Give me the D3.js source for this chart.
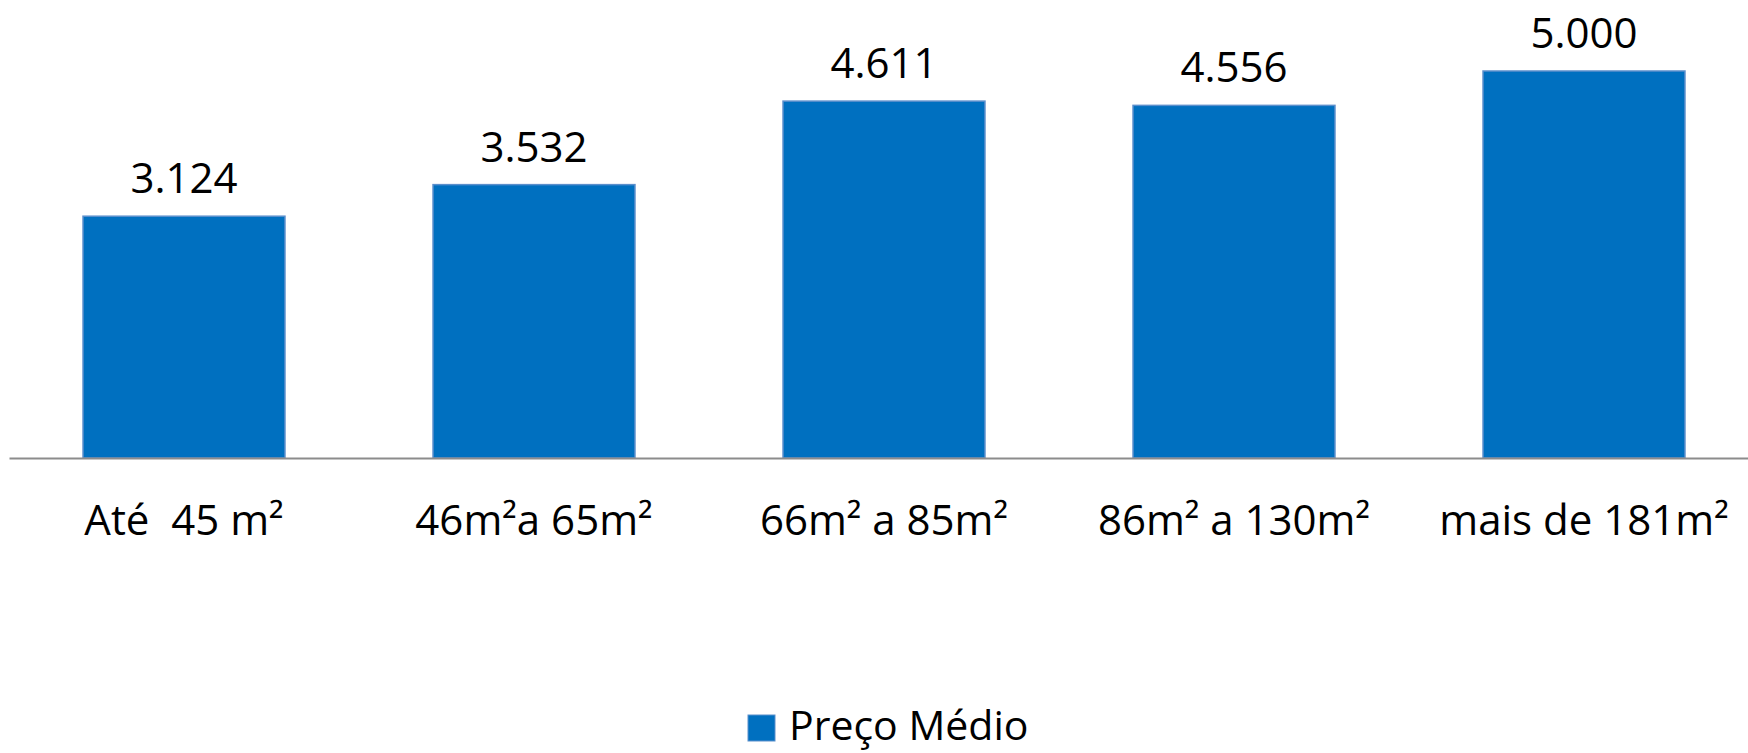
<!DOCTYPE html>
<html>
<head>
<meta charset="utf-8">
<script src="https://cdn.jsdelivr.net/npm/d3@7"></script>
<style>
  body { margin: 0; background: #fff; }
  text { font-family: "Open Sans", sans-serif; fill: #000; }
</style>
</head>
<body>
<svg id="chart"></svg>
<script>
const WIDTH = 1748;
const HEIGHT = 753;

const categories = ["Até  45 m²", "46m²a 65m²", "66m² a 85m²", "86m² a 130m²", "mais de 181m²"];
const values = [3124, 3532, 4611, 4556, 5000];
const seriesName = "Preço Médio";

const BAR_COLOR = "#0070c0";

const ptBR = d3.formatLocale({ decimal: ",", thousands: ".", grouping: [3], currency: ["R$", ""] });
const fmt = ptBR.format(",d");

const svg = d3.select("#chart").attr("width", WIDTH).attr("height", HEIGHT);

const x = d3.scaleBand().domain(categories).range([9, 1759]).paddingInner(0.423).paddingOuter(0.2115);
const y = d3.scaleLinear().domain([0, 5000]).range([458, 71]);

// bars
svg.selectAll("rect.bar")
  .data(values)
  .join("rect")
  .attr("class", "bar")
  .attr("x", (d, i) => x(categories[i]))
  .attr("width", x.bandwidth())
  .attr("y", (d) => y(d))
  .attr("height", (d) => y(0) - y(d))
  .attr("fill", BAR_COLOR)
  .attr("stroke", "#5b8fcc")
  .attr("stroke-width", 1.5);

// value labels
svg.selectAll("text.val")
  .data(values)
  .join("text")
  .attr("class", "val")
  .attr("x", (d, i) => x(categories[i]) + x.bandwidth() / 2)
  .attr("y", (d) => y(d) - 23)
  .attr("text-anchor", "middle")
  .attr("font-size", 42)
  .text((d) => fmt(d));

// x axis
const axis = svg.append("g")
  .attr("transform", `translate(0,${y(0)})`)
  .call(d3.axisBottom(x).tickSize(0).tickSizeOuter(0));
axis.select(".domain").attr("stroke", "#8c8c8c").attr("stroke-width", 2);
axis.selectAll(".tick text")
  .attr("y", 77)
  .attr("dy", 0)
  .attr("font-size", 42)
  .attr("font-family", "'Open Sans', sans-serif")
  .attr("fill", "#000")
  .style("white-space", "pre");

// legend
const legend = svg.append("g").attr("transform", "translate(748,715)");
legend.append("rect")
  .attr("width", 27)
  .attr("height", 26)
  .attr("fill", BAR_COLOR)
  .attr("stroke", "#5b8fcc")
  .attr("stroke-width", 1);
legend.append("text")
  .attr("x", 41)
  .attr("y", 25)
  .attr("font-size", 41)
  .text(seriesName);
</script>
</body>
</html>
